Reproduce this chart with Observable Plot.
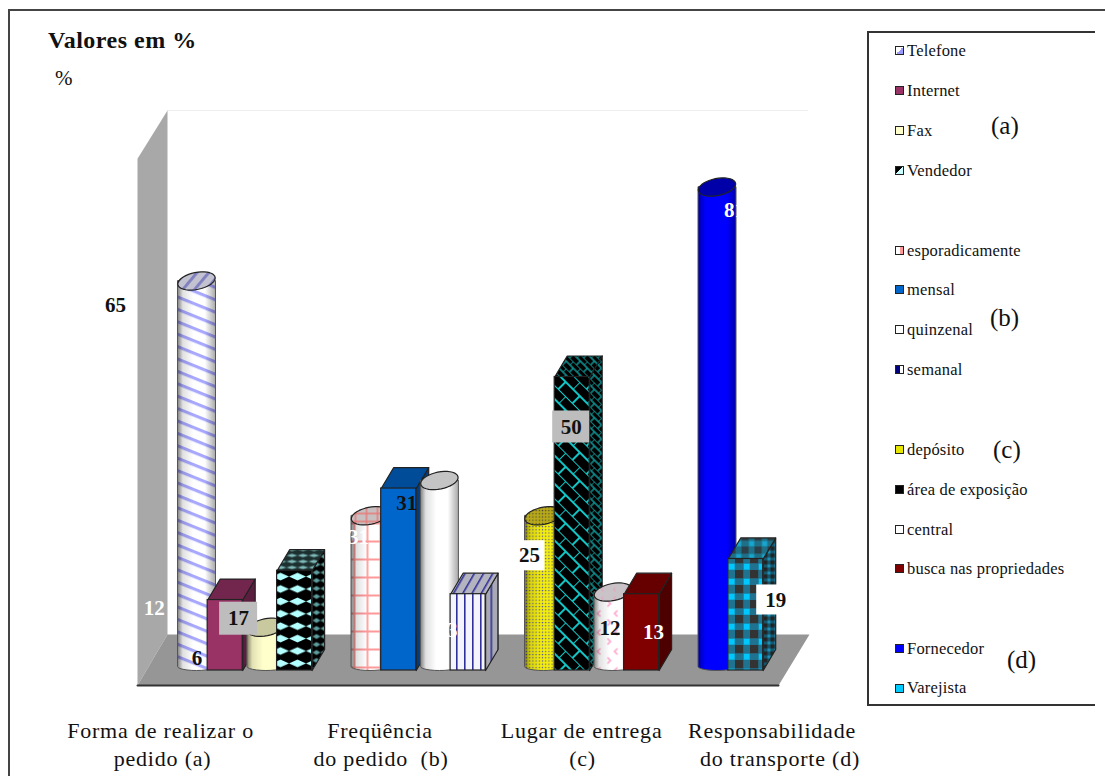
<!DOCTYPE html>
<html lang="pt">
<head>
<meta charset="utf-8">
<title>Valores em %</title>
<script src="https://cdn.jsdelivr.net/npm/d3@7"></script>
<script src="https://cdn.jsdelivr.net/npm/@observablehq/plot@0.6"></script>
<style>
  html, body { margin: 0; padding: 0; background: #fff; overflow: hidden; }
  #page { position: relative; width: 1105px; height: 776px; overflow: hidden; font-family: "Liberation Serif", serif; color: #111; }
  #chart { position: absolute; left: 0; top: 0; }
  #frame { position: absolute; left: 8px; top: 9px; width: 1110px; height: 790px; border: 2px solid #444; box-sizing: border-box; pointer-events: none; }
  #title { position: absolute; left: 48px; top: 26px; font-weight: bold; font-size: 24px; line-height: 28px; letter-spacing: 0.5px; }
  #unit { position: absolute; left: 55px; top: 66px; font-size: 21px; line-height: 24px; }
  #legend { position: absolute; left: 867px; top: 31px; width: 228px; height: 675px; box-sizing: border-box; border: 2px solid #333; border-right: none; background: #fff; }
  .entry { position: absolute; left: 26px; height: 16px; display: flex; align-items: center; font-size: 16.5px; letter-spacing: 0.2px; white-space: nowrap; }
  .swatch { width: 7px; height: 7px; border: 1px solid #222; margin-right: 3px; flex: none; }
  .tag { position: absolute; font-size: 25px; line-height: 26px; }
  .caption text { letter-spacing: 0.8px; }
</style>
</head>
<body>
<div id="page">
  <div id="chart"></div>
  <div id="frame"></div>
  <div id="title">Valores em %</div>
  <div id="unit">%</div>
  <div id="legend"></div>
</div>
<script>
// Survey answers in percent, one list per question.
const groupTags = ["a", "b", "c", "d"];
const groupLines = [
  ["Forma de realizar o", "pedido (a)"],
  ["Freqüência", "do pedido  (b)"],
  ["Lugar de entrega", "(c)"],
  ["Responsabilidade", "do transporte (d)"]
];
const optionNames = [
  ["Telefone", "Internet", "Fax", "Vendedor"],
  ["esporadicamente", "mensal", "quinzenal", "semanal"],
  ["depósito", "área de exposição", "central", "busca nas propriedades"],
  ["Fornecedor", "Varejista"]
];
const optionValues = [
  [65, 12, 6, 17],
  [25, 31, 31, 13],
  [25, 50, 12, 13],
  [81, 19]
];

// Appearance of each bar: front pattern, top face, side face, label ink and legend colour.
const looks = {
  Telefone: {front: "url(#stripes)", top: "url(#stripesTop)", swatch: "linear-gradient(135deg,#fff 50%,#9999ff 50%)", ink: "#111"},
  Internet: {front: "#993366", top: "#73264d", side: "#5c1e3e", swatch: "#993366", ink: "#fff"},
  Fax: {front: "#ffffcc", top: "#c9c99f", swatch: "#ffffcc", ink: "#111"},
  Vendedor: {front: "url(#diamonds)", top: "url(#diamondsTop)", side: "url(#diamondsSide)", swatch: "linear-gradient(135deg,#000 50%,#ccffff 50%)", ink: "#111"},
  esporadicamente: {front: "url(#grid)", top: "url(#gridTop)", swatch: "linear-gradient(90deg,#fff 50%,#ff9999 50%)", ink: "#fff"},
  mensal: {front: "#0066cc", top: "#004c99", side: "#003d80", swatch: "#0066cc", ink: "#111"},
  quinzenal: {front: "#ffffff", top: "#c4c4c4", swatch: "#fff", ink: "#fff"},
  semanal: {front: "url(#pinstripe)", top: "url(#pinstripeTop)", side: "url(#pinstripeSide)", swatch: "linear-gradient(90deg,#000080 50%,#fff 50%)", ink: "#fff"},
  "depósito": {front: "url(#dots)", top: "url(#dotsTop)", swatch: "#e6e600", ink: "#111"},
  "área de exposição": {front: "url(#bricks)", top: "url(#bricksTop)", side: "url(#bricksSide)", swatch: "#000", ink: "#111"},
  central: {front: "url(#carets)", top: "url(#caretsTop)", swatch: "#fff", ink: "#111"},
  "busca nas propriedades": {front: "#800000", top: "#660000", side: "#4d0000", swatch: "#800000", ink: "#fff"},
  Fornecedor: {front: "#0000ff", top: "#0000a8", swatch: "#0000ff", ink: "#fff"},
  Varejista: {front: "url(#checks)", top: "url(#checksTop)", side: "url(#checksSide)", swatch: "#00ccff", ink: "#111"}
};

// Hand placement of the value labels relative to the top of their bar, and label plates.
const labelShift = {
  Telefone: [-81, 16], Internet: [-77, 8], Fax: [-69, 23], Vendedor: [-62, 48],
  esporadicamente: [-53, 18], mensal: [2, 15], quinzenal: [-81, 49], semanal: [-27, 36],
  "depósito": [-14, 32], "área de exposição": [-7, 50], central: [-3, 28], "busca nas propriedades": [6, 38],
  Fornecedor: [17.5, 15], Varejista: [24, 41]
};
const labelPlates = {
  Vendedor: ["#bdbdbd", 38, 33], "área de exposição": ["#bdbdbd", 37, 32],
  "depósito": ["#fff", 31, 30], Varejista: ["#fff", 38, 30]
};

// Scale factors: one slot on x and one percentage point on y, in pixels.
const slotPx = 34.7, pointPx = 5.87;
const xRange = [161.3, 890], yRange = [670, 83];
const byX = px => px / slotPx, byY = px => -px / pointPx;

const bars = optionNames.flatMap((names, g) => names.map((name, i) => ({
  name, value: optionValues[g][i], slot: g * 5 + i, shape: i % 2 ? "box" : "cylinder"
})));

const poly = (points, options) => Plot.line(points, {x: "x", y: "y", curve: "linear-closed", ...options});

// A box: front rectangle with side and top faces pushed back by the floor's depth.
function boxMarks(d) {
  const look = looks[d.name];
  const cx = d.slot + byX(-6), half = byX(17.5), dx = byX(12.5), dv = byY(-21);
  const L = cx - half, R = cx + half, v = d.value;
  const edge = {stroke: "#222", strokeWidth: 1.2};
  return [
    poly([{x: R, y: 0}, {x: R, y: v}, {x: R + dx, y: v + dv}, {x: R + dx, y: dv}], {fill: look.side ?? look.top, ...edge}),
    poly([{x: L, y: v}, {x: R, y: v}, {x: R + dx, y: v + dv}, {x: L + dx, y: v + dv}], {fill: look.top, ...edge}),
    Plot.rect([d], {x1: () => L, x2: () => R, y1: () => 0, y2: () => v, fill: look.front, ...edge})
  ];
}

// A cylinder: body closed by a half ellipse at the foot, tilted ellipse on top, shaded across.
function cylinderMarks(d) {
  const look = looks[d.name];
  const cx = d.slot, rx = 19, top = d.value + byY(-8), foot = byY(-4);
  const arc = d3.range(0, 13).map(k => Math.PI * k / 12);
  const bodyPoints = [
    {x: cx - byX(rx), y: top},
    ...arc.map(t => ({x: cx - byX(rx * Math.cos(t)), y: foot + byY(4 * Math.sin(t))})),
    {x: cx + byX(rx), y: top}
  ];
  const tilt = -0.2;
  const lidPoints = d3.range(0, 36).map(k => {
    const t = 2 * Math.PI * k / 36;
    const ex = rx * Math.cos(t), ey = 8.5 * Math.sin(t);
    return {
      x: cx + byX(ex * Math.cos(tilt) - ey * Math.sin(tilt)),
      y: top + byY(ex * Math.sin(tilt) + ey * Math.cos(tilt))
    };
  });
  return [
    poly(bodyPoints, {fill: look.front, stroke: "none"}),
    poly(bodyPoints, {fill: d.name === "Fornecedor" ? "url(#shadeDeep)" : "url(#shade)", stroke: "#555", strokeWidth: 1}),
    poly(lidPoints, {fill: look.top, stroke: "#222", strokeWidth: 1.2})
  ];
}

// Wall and floor of the chart box.
const wallPoints = [
  {x: byX(137 - 196), y: 87.2}, {x: byX(167 - 196), y: 95.4},
  {x: byX(167 - 196), y: 6.13}, {x: byX(137 - 196), y: -2.56}
];
const floorPoints = [
  {x: byX(137 - 196), y: -2.56}, {x: byX(167 - 196), y: 6.13},
  {x: byX(809 - 196), y: 6.13}, {x: byX(778 - 196), y: -2.56}
];
const frontEdge = [{x: byX(137 - 196), y: -2.56}, {x: byX(778 - 196), y: -2.56}];

const labels = bars.map(d => {
  const [dx, dy] = labelShift[d.name];
  return {...d, lx: d.slot + byX(dx), ly: d.value + byY(dy)};
});
const plates = labels.filter(d => labelPlates[d.name]).map(d => {
  const [fill, w, h] = labelPlates[d.name];
  return {fill, x1: d.lx - byX(w / 2), x2: d.lx + byX(w / 2), y1: d.ly - byY(-h / 2), y2: d.ly + byY(-h / 2)};
});

// Category captions under each group, two lines each.
const captionNudge = [[-88, -86], [-42, -41], [-14, -13], [3, 11]];
const captions = groupLines.flatMap((lines, g) => lines.map((text, row) => ({
  text, row,
  x: g * 5 + 1.5 + byX(captionNudge[g][row]),
  y: byY(60 + row * 28)
})));

const plot = Plot.plot({
  width: 1105,
  height: 776,
  margin: 0,
  style: {background: "transparent", overflow: "visible"},
  x: {domain: [-1, 20], range: xRange, axis: null},
  y: {domain: [0, 100], range: yRange, axis: null},
  marks: [
    Plot.ruleY([95.4], {x1: byX(167 - 196), x2: byX(808 - 196), stroke: "#eeeeee"}),
    poly(wallPoints, {fill: "#a8a8a8", stroke: "none"}),
    poly(floorPoints, {fill: "#969696", stroke: "none"}),
    Plot.line(frontEdge, {x: "x", y: "y", stroke: "#333", strokeWidth: 2}),
    ...bars.flatMap(d => d.shape === "box" ? boxMarks(d) : cylinderMarks(d)),
    ...plates.map(p => Plot.rect([p], {x1: "x1", x2: "x2", y1: "y1", y2: "y2", fill: p.fill})),
    ...labels.map(d => Plot.text([d], {
      x: "lx", y: "ly", text: "value", fill: looks[d.name].ink,
      fontFamily: "Liberation Serif", fontWeight: "bold", fontSize: 21
    })),
    Plot.text(captions, {
      x: "x", y: "y", text: "text", fill: "#111", className: "caption",
      fontFamily: "Liberation Serif", fontSize: 22
    })
  ]
});

// Fill patterns and cylinder shading.
const stripeSet = (id, bg, ink, w, h, angle, share) =>
  `<pattern id="${id}" width="${w}" height="${h}" patternUnits="userSpaceOnUse" patternTransform="rotate(${angle})">
     <rect width="${w}" height="${h}" fill="${bg}"/><rect width="${w}" height="${h * share}" fill="${ink}"/></pattern>`;
const vStripes = (id, bg, ink, w, angle) =>
  `<pattern id="${id}" width="${w}" height="${w}" patternUnits="userSpaceOnUse" patternTransform="rotate(${angle})">
     <rect width="${w}" height="${w}" fill="${bg}"/><rect width="1.6" height="${w}" fill="${ink}"/></pattern>`;
const diamond = (id, bg, ink, w, h) =>
  `<pattern id="${id}" width="${w}" height="${h}" patternUnits="userSpaceOnUse">
     <rect width="${w}" height="${h}" fill="${bg}"/>
     <polygon points="0,${h / 2} ${w / 2},${h * 0.2} ${w},${h / 2} ${w / 2},${h * 0.8}" fill="${ink}"/></pattern>`;
const brick = (id, ink, s, width) =>
  `<pattern id="${id}" width="${s}" height="${s}" patternUnits="userSpaceOnUse" patternTransform="rotate(45)">
     <rect width="${s}" height="${s}" fill="#000"/>
     <path d="M0 0H${s}M0 ${s / 2}H${s}M0 0V${s / 2}M${s / 2} ${s / 2}V${s}" stroke="${ink}" stroke-width="${width}" fill="none"/></pattern>`;
const check = (id, bg, dark, light, s) =>
  `<pattern id="${id}" width="${s}" height="${s}" patternUnits="userSpaceOnUse">
     <rect width="${s}" height="${s}" fill="${bg}"/>
     <rect width="${s * 0.55}" height="${s * 0.55}" fill="${dark}"/>
     <rect x="${s * 0.58}" y="${s * 0.58}" width="${s * 0.4}" height="${s * 0.4}" fill="${light}"/></pattern>`;
const dotted = (id, bg, ink) =>
  `<pattern id="${id}" width="3.2" height="3.2" patternUnits="userSpaceOnUse">
     <rect width="3.2" height="3.2" fill="${bg}"/><circle cx="1.2" cy="1.2" r="0.7" fill="${ink}"/></pattern>`;

d3.select(plot).insert("defs", ":first-child").html(`
  <linearGradient id="shade">
    <stop offset="0" stop-color="#000" stop-opacity="0.5"/><stop offset="0.14" stop-color="#000" stop-opacity="0.12"/>
    <stop offset="0.42" stop-color="#000" stop-opacity="0"/><stop offset="0.72" stop-color="#000" stop-opacity="0"/>
    <stop offset="1" stop-color="#000" stop-opacity="0.34"/>
  </linearGradient>
  <linearGradient id="shadeDeep">
    <stop offset="0" stop-color="#000" stop-opacity="0.35"/><stop offset="0.2" stop-color="#000" stop-opacity="0"/>
    <stop offset="0.75" stop-color="#000" stop-opacity="0"/><stop offset="1" stop-color="#000" stop-opacity="0.35"/>
  </linearGradient>
  ${stripeSet("stripes", "#ffffff", "#a8a8ff", 11.5, 11.5, 22, 0.27)}
  ${stripeSet("stripesTop", "#c2c2d0", "#8080c0", 9, 9, -50, 0.32)}
  ${diamond("diamonds", "#000", "#b4ffff", 17, 12.4)}
  ${diamond("diamondsSide", "#000", "#5d9c9c", 8, 8)}
  ${diamond("diamondsTop", "#1c3030", "#7fb8b8", 11, 6)}
  <pattern id="grid" width="13" height="18" patternUnits="userSpaceOnUse">
    <rect width="13" height="18" fill="#fff"/><path d="M0 1H13M3 0V18" stroke="#ff9999" stroke-width="1.8"/>
  </pattern>
  <pattern id="gridTop" width="11" height="8" patternUnits="userSpaceOnUse">
    <rect width="11" height="8" fill="#c8c0c0"/><path d="M0 1H11M3 0V8" stroke="#e87878" stroke-width="1.4"/>
  </pattern>
  ${vStripes("pinstripe", "#f4f4ff", "#303098", 8, 0)}
  ${vStripes("pinstripeSide", "#a9a9b4", "#303098", 7, 0)}
  ${vStripes("pinstripeTop", "#b4b4c0", "#303098", 8, 30)}
  ${dotted("dots", "#f2ec10", "#5a5a90")}
  ${dotted("dotsTop", "#b7a81a", "#4b4b30")}
  ${brick("bricks", "#12c4c4", 20, 2)}
  ${brick("bricksSide", "#0f9c9c", 10, 1.4)}
  ${brick("bricksTop", "#0f9c9c", 10, 1.4)}
  <pattern id="carets" width="17" height="19" patternUnits="userSpaceOnUse">
    <rect width="17" height="19" fill="#fff"/>
    <path d="M5 2L2 5L5 8M12 11L15 14L12 17" stroke="#ff9fc8" stroke-width="1.5" fill="none"/>
  </pattern>
  <pattern id="caretsTop" width="12" height="9" patternUnits="userSpaceOnUse">
    <rect width="12" height="9" fill="#c9c2c6"/><path d="M3 2L1 4L3 6" stroke="#e89abc" fill="none"/>
  </pattern>
  ${check("checks", "#1f7390", "#333333", "#00c8ff", 15)}
  ${check("checksSide", "#14566c", "#222222", "#1f93b8", 7)}
  ${check("checksTop", "#1e7088", "#2a3f48", "#17a6cf", 13)}
`);
document.getElementById("chart").append(plot);

// Legend: one row per option, spaced evenly with a blank band between the groups.
const legend = document.getElementById("legend");
const legendRows = [9.5, 49.5, 89.5, 129.5, 209.5, 248.5, 288.5, 328.5, 408.5, 448.5, 488.5, 527.5, 607.5, 647];
optionNames.flat().forEach((name, i) => {
  const entry = document.createElement("div");
  entry.className = "entry";
  entry.style.top = legendRows[i] + "px";
  const swatch = document.createElement("span");
  swatch.className = "swatch";
  swatch.style.background = looks[name].swatch;
  entry.append(swatch, document.createTextNode(name));
  legend.append(entry);
});
const tagSpots = [[122, 80], [121, 272], [124, 404], [138, 614]];
groupTags.forEach((tag, i) => {
  const el = document.createElement("div");
  el.className = "tag";
  el.textContent = `(${tag})`;
  el.style.left = tagSpots[i][0] + "px";
  el.style.top = tagSpots[i][1] + "px";
  legend.append(el);
});
</script>
</body>
</html>
